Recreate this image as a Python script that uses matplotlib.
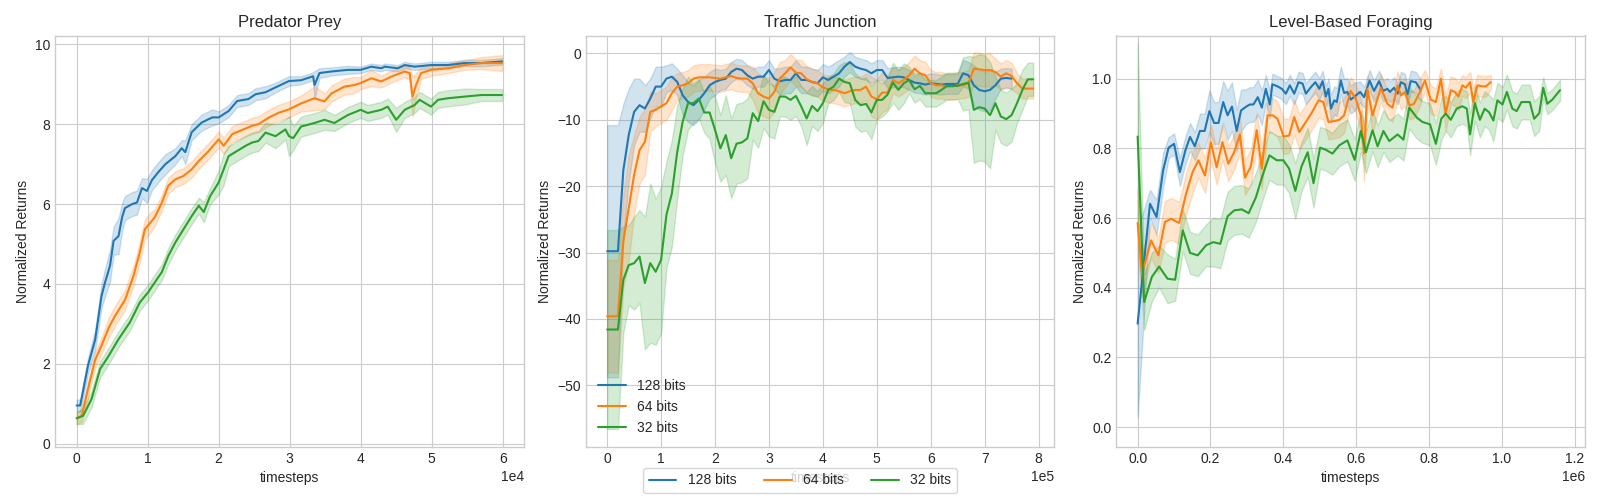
import numpy as np
import matplotlib
matplotlib.use("Agg")
import matplotlib.pyplot as plt

# ---------------- data ----------------
labels = ["128 bits", "64 bits", "32 bits"]
colors = ["#1f77b4", "#ff7f0e", "#2ca02c"]
titles = ["Predator Prey", "Traffic Junction", "Level-Based Foraging"]

# Predator Prey (x in units of 1e4 timesteps)
pp_x_128 = [0, 0.05, 0.16, 0.26, 0.35, 0.4, 0.47, 0.52, 0.59, 0.64, 0.68, 0.78, 0.85, 0.92, 0.99, 1.06, 1.15, 1.25, 1.39, 1.48,
            1.53, 1.62, 1.76, 1.91, 2.0, 2.14, 2.26, 2.42, 2.52, 2.66, 2.8, 2.99, 3.16, 3.33, 3.35, 3.42, 3.59, 3.82, 4.0, 4.15,
            4.29, 4.34, 4.52, 4.62, 4.76, 4.99, 5.23, 5.46, 5.7, 5.99]
pp_y_128 = [0.96, 0.96, 1.96, 2.6, 3.7, 4.04, 4.46, 5.08, 5.2, 5.67, 5.9, 6.0, 6.04, 6.4, 6.33, 6.6, 6.8, 7.0, 7.2, 7.4,
            7.3, 7.8, 8.04, 8.17, 8.17, 8.33, 8.58, 8.63, 8.75, 8.8, 8.92, 9.08, 9.1, 9.2, 8.98, 9.28, 9.32, 9.36, 9.36, 9.44,
            9.4, 9.44, 9.4, 9.48, 9.44, 9.48, 9.48, 9.53, 9.53, 9.57]
pp_s_128 = [0.15, 0.15, 0.2, 0.25, 0.3, 0.35, 0.4, 0.35, 0.45, 0.35, 0.3, 0.3, 0.3, 0.25, 0.3, 0.25, 0.25, 0.25, 0.2, 0.2,
            0.3, 0.2, 0.2, 0.2, 0.15, 0.15, 0.15, 0.15, 0.15, 0.15, 0.12, 0.12, 0.1, 0.1, 0.35, 0.12, 0.1, 0.1, 0.08, 0.08,
            0.08, 0.08, 0.08, 0.08, 0.08, 0.08, 0.08, 0.08, 0.08, 0.08]

pp_x_64 = [0, 0.07, 0.16, 0.26, 0.35, 0.45, 0.54, 0.68, 0.8, 0.89, 0.96, 1.04, 1.1, 1.2, 1.29, 1.39, 1.5, 1.62, 1.72, 1.86,
           2.0, 2.07, 2.19, 2.35, 2.47, 2.56, 2.71, 2.85, 2.99, 3.16, 3.35, 3.49, 3.59, 3.77, 3.91, 4.0, 4.15, 4.29, 4.43, 4.62,
           4.69, 4.73, 4.78, 4.85, 4.99, 5.23, 5.46, 5.7, 5.99]
pp_y_64 = [0.64, 0.7, 1.37, 2.1, 2.46, 2.9, 3.2, 3.6, 4.2, 4.8, 5.37, 5.54, 5.67, 6.04, 6.46, 6.62, 6.7, 6.87, 7.08, 7.33,
           7.62, 7.46, 7.75, 7.87, 7.96, 8.0, 8.17, 8.29, 8.37, 8.52, 8.65, 8.57, 8.77, 8.94, 8.98, 9.03, 9.15, 9.07, 9.19, 9.32,
           9.28, 8.69, 8.98, 9.28, 9.36, 9.4, 9.48, 9.53, 9.53]
pp_s_64 = [0.15, 0.15, 0.2, 0.2, 0.2, 0.25, 0.25, 0.25, 0.25, 0.25, 0.25, 0.25, 0.2, 0.2, 0.2, 0.2, 0.2, 0.2, 0.2, 0.2,
           0.2, 0.2, 0.2, 0.2, 0.2, 0.2, 0.2, 0.2, 0.2, 0.2, 0.3, 0.2, 0.2, 0.2, 0.2, 0.15, 0.2, 0.15, 0.15, 0.15,
           0.15, 0.5, 0.3, 0.15, 0.15, 0.12, 0.12, 0.15, 0.2]

pp_x_32 = [0, 0.09, 0.21, 0.33, 0.45, 0.59, 0.75, 0.89, 1.01, 1.1, 1.2, 1.29, 1.39, 1.48, 1.62, 1.72, 1.79, 1.88, 2.0, 2.07,
           2.14, 2.26, 2.38, 2.47, 2.56, 2.66, 2.8, 2.94, 2.99, 3.05, 3.16, 3.35, 3.49, 3.63, 3.82, 4.0, 4.1, 4.29, 4.38, 4.5,
           4.62, 4.76, 4.83, 4.99, 5.09, 5.23, 5.46, 5.7, 5.99]
pp_y_32 = [0.64, 0.7, 1.12, 1.87, 2.2, 2.62, 3.04, 3.54, 3.8, 4.04, 4.3, 4.7, 5.04, 5.3, 5.7, 5.96, 5.8, 6.2, 6.54, 6.87,
           7.2, 7.33, 7.46, 7.54, 7.58, 7.79, 7.7, 7.87, 7.7, 7.65, 7.94, 8.03, 8.11, 8.03, 8.23, 8.36, 8.28, 8.36, 8.44, 8.11,
           8.36, 8.48, 8.61, 8.44, 8.61, 8.65, 8.69, 8.73, 8.73]
pp_s_32 = [0.15, 0.2, 0.2, 0.2, 0.2, 0.2, 0.2, 0.2, 0.2, 0.2, 0.2, 0.2, 0.2, 0.2, 0.2, 0.2, 0.25, 0.2, 0.3, 0.4,
           0.25, 0.25, 0.25, 0.25, 0.25, 0.25, 0.3, 0.25, 0.5, 0.3, 0.25, 0.25, 0.25, 0.2, 0.2, 0.2, 0.2, 0.2, 0.2, 0.3,
           0.2, 0.2, 0.2, 0.2, 0.2, 0.2, 0.2, 0.15, 0.15]

# Traffic Junction (evaluation every 1e4 steps, first two at 0 and 2e4)
tj_steps_128 = np.r_[0, np.arange(2, 76)] * 1e4
tj_steps_long = np.r_[0, np.arange(2, 80)] * 1e4
tj_y_128 = [-29.8, -29.8, -17.6, -12.3, -8.8, -7.8, -8.3, -6.8, -5.0, -5.0,
            -3.8, -3.5, -4.3, -6.3, -7.3, -7.8, -7.0, -6.0, -4.8, -4.3,
            -4.0, -3.8, -2.8, -2.3, -2.5, -3.3, -3.8, -3.5, -3.5, -2.5,
            -3.8, -4.2, -4.0, -4.0, -3.0, -4.0, -4.0, -4.3, -4.5, -3.6,
            -4.0, -3.5, -3.0, -2.0, -1.3, -2.0, -2.3, -2.5, -3.0, -2.5,
            -2.5, -3.7, -3.6, -3.5, -3.6, -4.0, -4.4, -4.5, -4.7, -4.5,
            -4.6, -4.7, -4.6, -4.6, -4.6, -3.0, -3.3, -4.8, -5.5, -5.7,
            -5.5, -4.8, -3.8, -3.7, -3.8]
tj_s_128 = [19, 19, 10, 7, 5, 4, 3.5, 3, 3, 3,
            2, 2, 2, 3, 3, 3, 3, 2.5, 2, 2,
            1.5, 1.5, 1.5, 1.5, 1.5, 1.5, 1.5, 1.5, 1.5, 1.5,
            1.5, 2, 2, 2, 2, 2, 2, 2, 2, 2,
            2, 2, 2, 1.5, 1.5, 1.5, 1.5, 1.5, 1.5, 1.5,
            1.5, 1.5, 1.5, 1.5, 1.5, 1.5, 1.5, 1.5, 1.5, 1.5,
            1.5, 1.5, 1.5, 1.5, 1.5, 2, 2, 3, 3, 3,
            3, 2, 1.5, 1.5, 1.5]
tj_y_64 = [-39.6, -39.6, -28.3, -23.3, -18.3, -14.6, -13.3, -8.8, -8.5, -8.0,
           -7.5, -6.0, -5.0, -4.8, -4.5, -3.8, -3.6, -3.6, -3.6, -3.7,
           -3.8, -3.6, -3.4, -3.7, -3.8, -3.8, -4.5, -6.0, -6.5, -6.8,
           -5.8, -3.8, -3.0, -2.1, -2.9, -3.0, -3.9, -4.3, -4.5, -5.1,
           -5.4, -5.5, -5.7, -6.0, -5.7, -5.5, -5.5, -5.0, -6.5, -6.9,
           -5.9, -5.9, -4.0, -4.5, -4.0, -3.3, -2.3, -3.0, -3.3, -4.5,
           -4.8, -4.8, -5.0, -5.0, -4.8, -4.8, -4.5, -2.3, -2.4, -2.5,
           -2.5, -2.8, -3.5, -3.0, -3.4, -4.5, -5.3, -5.3, -5.3]
tj_s_64 = [8.5, 8.5, 7, 8, 6, 5, 5, 3, 2.5, 2.5,
           2.5, 2.5, 2, 2, 2, 2, 2, 2, 2, 2,
           2, 2, 2, 2, 2, 2, 2.5, 3, 3, 3,
           3, 2.5, 2, 2, 2, 2, 2, 2, 2, 2,
           2, 2, 2, 2, 2, 2, 2, 2, 3, 3,
           3, 2.5, 2, 2, 2, 2, 2, 2, 2, 2,
           2, 2, 2, 2, 2, 2, 2, 2.5, 2.5, 2.5,
           2.5, 2, 2, 2, 2, 1.5, 1.5, 1.5, 1.5]
tj_y_32 = [-41.6, -41.6, -34.1, -31.9, -31.6, -30.6, -34.6, -31.6, -32.9, -31.1,
           -24.3, -21.1, -14.8, -10.3, -7.5, -7.5, -6.8, -8.9, -8.9, -11.5,
           -14.3, -12.3, -15.8, -13.6, -13.4, -12.8, -9.0, -10.2, -7.2, -8.5,
           -8.8, -6.5, -6.5, -7.0, -6.4, -8.0, -9.8, -7.9, -8.7, -7.5,
           -5.5, -5.0, -3.8, -4.3, -4.5, -7.0, -7.8, -7.6, -8.9, -7.0,
           -7.0, -6.2, -4.4, -5.5, -4.5, -4.0, -5.4, -4.9, -6.0, -6.0,
           -6.0, -5.5, -4.9, -4.9, -4.9, -4.6, -4.4, -8.5, -8.1, -8.3,
           -9.3, -7.5, -9.5, -9.9, -9.3, -7.5, -5.5, -3.9, -3.9]
tj_s_32 = [15, 15, 8, 6, 7, 7, 10, 12, 11, 11,
           8, 8, 7, 5, 4, 3, 3, 3, 4, 5,
           5, 6, 6, 6, 6, 6, 4, 4, 4, 4,
           4, 3, 3, 3, 3, 3, 4, 3, 3, 3,
           2, 2, 2, 3, 3, 4, 4, 4, 4, 3,
           2.5, 2.5, 3, 3, 3, 2, 2, 2, 2, 2,
           2, 2, 2, 2, 2, 4, 4, 8, 8, 8,
           8, 4, 4, 4, 4, 3, 3, 2.5, 2.5]

# Level-Based Foraging (x in units of 1e6 timesteps)
lbf_x_128 = [0, 0.034, 0.052, 0.07, 0.085, 0.1, 0.116, 0.131, 0.144, 0.157,
             0.171, 0.184, 0.197, 0.21, 0.222, 0.235, 0.247, 0.259, 0.272, 0.284,
             0.297, 0.308, 0.318, 0.33, 0.341, 0.352, 0.363, 0.37, 0.384, 0.396,
             0.407, 0.418, 0.43, 0.442, 0.453, 0.462, 0.476, 0.488, 0.499, 0.508,
             0.517, 0.524, 0.531, 0.54, 0.547, 0.558, 0.567, 0.576, 0.585, 0.596,
             0.611, 0.622, 0.637, 0.649, 0.663, 0.674, 0.686, 0.693, 0.704, 0.714,
             0.723, 0.734, 0.741, 0.75, 0.764, 0.778]
lbf_y_128 = [0.297, 0.641, 0.603, 0.737, 0.802, 0.813, 0.732, 0.794, 0.833, 0.806,
             0.85, 0.85, 0.907, 0.873, 0.873, 0.933, 0.895, 0.92, 0.85, 0.909,
             0.919, 0.926, 0.926, 0.947, 0.917, 0.971, 0.926, 0.984, 0.978, 0.971,
             0.957, 0.981, 0.957, 0.99, 0.986, 0.957, 0.976, 0.99, 0.971, 0.993,
             0.949, 0.971, 0.914, 0.938, 0.933, 0.995, 0.959, 0.962, 0.94, 0.949,
             0.962, 0.947, 0.995, 0.965, 0.993, 0.965, 0.971, 0.962, 0.974, 0.957,
             0.99, 0.984, 0.955, 0.993, 0.99, 0.967]
lbf_s_128 = [0.27, 0.04, 0.05, 0.05, 0.03, 0.03, 0.04, 0.04, 0.04, 0.04,
             0.05, 0.05, 0.06, 0.06, 0.06, 0.06, 0.07, 0.07, 0.06, 0.06,
             0.05, 0.05, 0.05, 0.05, 0.05, 0.04, 0.04, 0.03, 0.03, 0.03,
             0.03, 0.03, 0.03, 0.03, 0.03, 0.03, 0.03, 0.03, 0.03, 0.03,
             0.03, 0.03, 0.04, 0.04, 0.04, 0.04, 0.04, 0.04, 0.04, 0.04,
             0.03, 0.03, 0.03, 0.03, 0.03, 0.03, 0.03, 0.03, 0.03, 0.03,
             0.03, 0.03, 0.03, 0.03, 0.03, 0.03]

lbf_x_64 = [0, 0.012, 0.037, 0.057, 0.075, 0.092, 0.114, 0.133, 0.151, 0.167,
            0.185, 0.201, 0.217, 0.233, 0.249, 0.265, 0.281, 0.295, 0.311, 0.327,
            0.341, 0.357, 0.371, 0.384, 0.401, 0.416, 0.43, 0.444, 0.462, 0.479,
            0.497, 0.51, 0.524, 0.537, 0.554, 0.567, 0.585, 0.599, 0.613, 0.622,
            0.631, 0.645, 0.668, 0.686, 0.7, 0.714, 0.723, 0.734, 0.747, 0.759,
            0.773, 0.789, 0.805, 0.819, 0.833, 0.846, 0.86, 0.871, 0.881, 0.892,
            0.901, 0.913, 0.922, 0.933, 0.947, 0.956, 0.97]
lbf_y_64 = [0.586, 0.44, 0.536, 0.493, 0.589, 0.598, 0.586, 0.67, 0.732, 0.766,
            0.722, 0.818, 0.746, 0.818, 0.756, 0.789, 0.84, 0.716, 0.748, 0.852,
            0.742, 0.895, 0.895, 0.885, 0.834, 0.837, 0.89, 0.847, 0.876, 0.904,
            0.938, 0.933, 0.876, 0.878, 0.882, 0.895, 0.965, 0.943, 0.895, 0.785,
            0.971, 0.895, 0.974, 0.928, 0.917, 0.981, 0.952, 0.962, 0.923, 0.928,
            0.957, 0.995, 0.94, 0.933, 1.0, 0.9, 0.967, 0.962, 0.949, 0.981,
            0.974, 0.99, 0.933, 0.981, 0.978, 0.978, 0.99]
lbf_s_64 = [0.1, 0.06, 0.05, 0.05, 0.06, 0.06, 0.06, 0.06, 0.06, 0.05,
            0.05, 0.05, 0.05, 0.05, 0.05, 0.05, 0.05, 0.05, 0.05, 0.05,
            0.06, 0.05, 0.05, 0.05, 0.05, 0.05, 0.05, 0.05, 0.05, 0.05,
            0.05, 0.05, 0.05, 0.05, 0.05, 0.05, 0.04, 0.04, 0.05, 0.08,
            0.04, 0.05, 0.04, 0.04, 0.04, 0.04, 0.04, 0.04, 0.04, 0.04,
            0.04, 0.03, 0.04, 0.04, 0.03, 0.05, 0.04, 0.04, 0.04, 0.03,
            0.03, 0.03, 0.04, 0.03, 0.03, 0.03, 0.02]

lbf_x_32 = [0, 0.018, 0.039, 0.059, 0.082, 0.103, 0.124, 0.144, 0.165, 0.188,
            0.208, 0.227, 0.247, 0.265, 0.286, 0.305, 0.325, 0.343, 0.362, 0.382,
            0.4, 0.416, 0.433, 0.45, 0.467, 0.483, 0.501, 0.517, 0.535, 0.554,
            0.576, 0.596, 0.613, 0.627, 0.645, 0.659, 0.675, 0.691, 0.714, 0.73,
            0.746, 0.767, 0.782, 0.803, 0.819, 0.834, 0.846, 0.86, 0.876, 0.892,
            0.904, 0.913, 0.926, 0.94, 0.953, 0.965, 0.977, 0.988, 1.002, 1.014,
            1.029, 1.041, 1.054, 1.066, 1.077, 1.089, 1.103, 1.114, 1.125, 1.139,
            1.16]
lbf_y_32 = [0.834, 0.359, 0.431, 0.461, 0.426, 0.423, 0.565, 0.5, 0.493, 0.522,
            0.531, 0.526, 0.605, 0.622, 0.625, 0.614, 0.66, 0.722, 0.78, 0.766,
            0.766, 0.742, 0.678, 0.748, 0.789, 0.7, 0.802, 0.796, 0.785, 0.809,
            0.823, 0.767, 0.85, 0.789, 0.852, 0.806, 0.85, 0.821, 0.84, 0.825,
            0.917, 0.888, 0.876, 0.869, 0.813, 0.885, 0.9, 0.882, 0.914, 0.921,
            0.914, 0.84, 0.93, 0.882, 0.914, 0.904, 0.88, 0.938, 0.926, 0.962,
            0.914, 0.907, 0.933, 0.933, 0.933, 0.885, 0.901, 0.974, 0.928, 0.94,
            0.967]
lbf_s_32 = [0.27, 0.08, 0.07, 0.06, 0.07, 0.06, 0.06, 0.06, 0.06, 0.06,
            0.07, 0.07, 0.07, 0.07, 0.07, 0.07, 0.07, 0.07, 0.07, 0.07,
            0.07, 0.07, 0.08, 0.07, 0.07, 0.07, 0.06, 0.06, 0.06, 0.06,
            0.06, 0.06, 0.06, 0.06, 0.06, 0.06, 0.06, 0.06, 0.06, 0.06,
            0.06, 0.06, 0.06, 0.06, 0.06, 0.06, 0.05, 0.05, 0.05, 0.05,
            0.05, 0.06, 0.05, 0.05, 0.05, 0.05, 0.06, 0.05, 0.05, 0.05,
            0.05, 0.05, 0.05, 0.05, 0.05, 0.05, 0.05, 0.03, 0.03, 0.03,
            0.03]

# ---------------- plotting ----------------
plt.style.use("seaborn-v0_8-whitegrid")
plt.rcParams["font.family"] = ["Liberation Sans", "DejaVu Sans"]

fig, axes = plt.subplots(1, 3, figsize=(16, 5), dpi=100)
fig.subplots_adjust(left=0.0346, right=0.9906, bottom=0.106, top=0.929, wspace=0.132)

panels = [
    (1e4, [(pp_x_128, pp_y_128, pp_s_128), (pp_x_64, pp_y_64, pp_s_64), (pp_x_32, pp_y_32, pp_s_32)]),
    (1.0, [(tj_steps_128, tj_y_128, tj_s_128), (tj_steps_long, tj_y_64, tj_s_64), (tj_steps_long, tj_y_32, tj_s_32)]),
    (1e6, [(lbf_x_128, lbf_y_128, lbf_s_128), (lbf_x_64, lbf_y_64, lbf_s_64), (lbf_x_32, lbf_y_32, lbf_s_32)]),
]

handles = []
for i, (ax, (scale, series)) in enumerate(zip(axes, panels)):
    for j, (xs, ys, ss) in enumerate(series):
        x = np.asarray(xs, dtype=float) * scale
        y = np.asarray(ys, dtype=float)
        s = np.asarray(ss, dtype=float)
        ax.fill_between(x, y - s, y + s, color=colors[j], alpha=0.2)
        ln, = ax.plot(x, y, color=colors[j], lw=1.5, label=labels[j])
        if i == 0:
            handles.append(ln)
    ax.set_title(titles[i], fontsize=12)
    ax.set_xlabel("timesteps")
    ax.set_ylabel("Normalized Returns")
    ax.ticklabel_format(axis="x", style="sci", scilimits=(0, 0))

axes[0].set_xlim(-0.3e4, 6.3e4)
axes[0].set_ylim(-0.08, 10.22)
axes[1].set_xlim(-0.395e5, 8.295e5)
axes[1].set_ylim(-59.3, 2.7)
axes[2].set_xlim(-0.0585e6, 1.2285e6)
axes[2].set_ylim(-0.057, 1.124)

axes[1].legend(loc="lower left")
fig.legend(handles, labels, loc="lower center", ncol=3, frameon=True)

fig.savefig("out.png", dpi=100)
